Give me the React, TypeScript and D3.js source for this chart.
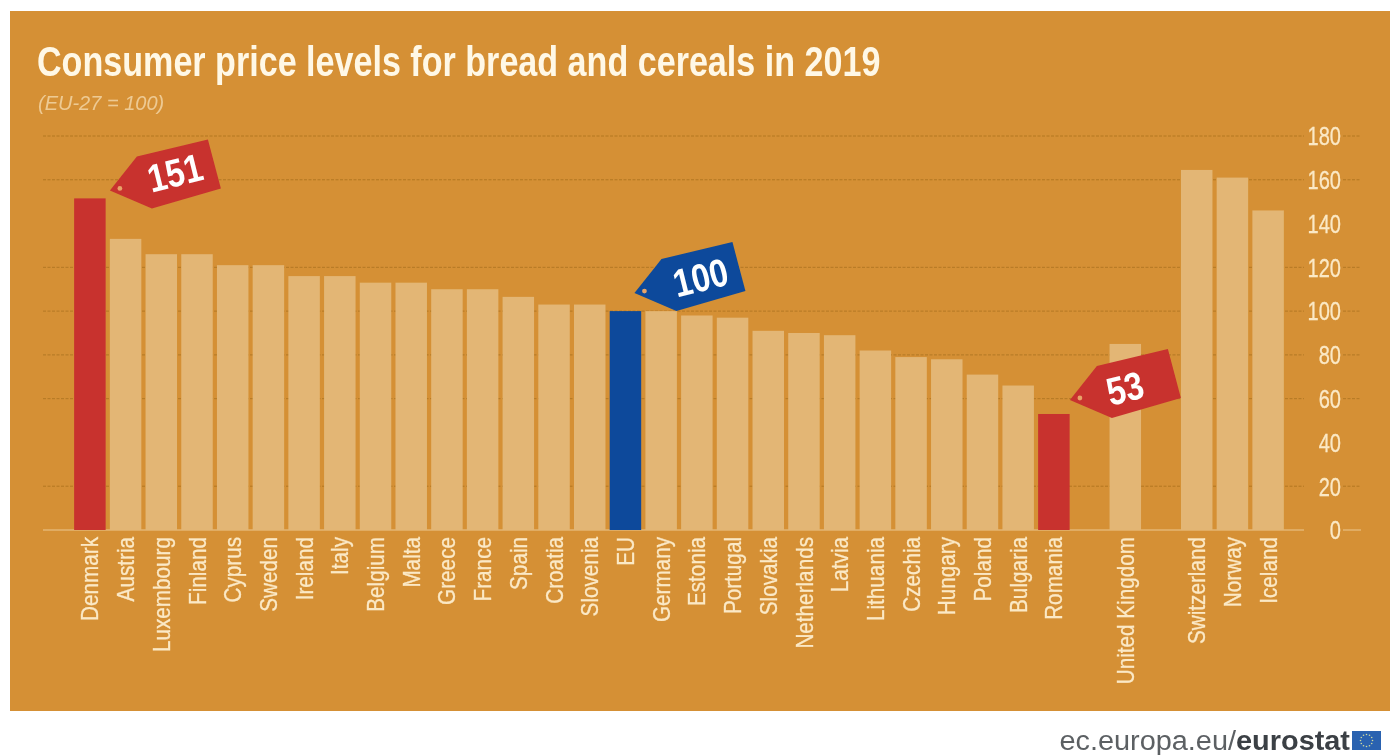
import React from "react";
import * as d3 from "d3";

const categories = ["Denmark","Austria","Luxembourg","Finland","Cyprus","Sweden","Ireland","Italy","Belgium","Malta","Greece","France","Spain","Croatia","Slovenia","EU","Germany","Estonia","Portugal","Slovakia","Netherlands","Latvia","Lithuania","Czechia","Hungary","Poland","Bulgaria","Romania","gap1","United Kingdom","gap2","Switzerland","Norway","Iceland"];
const values = [151.5,133,126,126,121,121,116,116,113,113,110,110,106.5,103,103,100,100,98,97,91,90,89,82,79,78,71,66,53,null,85,null,164.5,161,146];
const yTicks = [0,20,40,60,80,100,120,140,160,180];
const gridValues = [20,60,80,100,120,160,180];
const tagNames = ["Denmark","EU","Romania"];
const tagLabels = ["151","100","53"];

const tagLayout = [
  { dx: 20, dy: -8, tx: 65, ty: -18, fill: "#c8312f" },
  { dx: 9, dy: -18, tx: 66, ty: -16, fill: "#0c4a9b" },
  { dx: 16, dy: -14, tx: 55, ty: -12, fill: "#c8312f" },
];
const barColors: Record<string, string> = { Denmark: "#c8312f", Romania: "#c8312f", EU: "#0c4a9b" };

const W = 1390, H = 755;
const BG = "#d59035", BAR = "#e3b674", TEXT = "#fbe9c6", GRID = "#ad7320";
const SANS = "'Liberation Sans',sans-serif";

const x = d3.scaleBand<string>().domain(categories).range([72, 1286]).paddingInner(0.118).paddingOuter(0.06);
const y = d3.scaleLinear().domain([0, 180]).range([530, 136]);
const tagPath = d3.line()([[0,0],[27,-34],[98,-51],[111,-2],[42,18]]) + "Z";

export default function App() {
  return (
    <svg width={W} height={H} style={{ position: "absolute", left: 0, top: 0, background: "#fff" }}>
      <defs>
        <filter id="soft" x="-5%" y="-5%" width="110%" height="110%">
          <feGaussianBlur stdDeviation="0.5" />
        </filter>
      </defs>
      <g filter="url(#soft)">
        <rect x={10} y={11} width={1380} height={700} fill={BG} />
        <text transform="translate(37,75.5) scale(0.812,1)" fill="#fff8e6" fontFamily={SANS} fontWeight={700} fontSize={42}>
          Consumer price levels for bread and cereals in 2019
        </text>
        <text x={38} y={110} fill={TEXT} fontFamily={SANS} fontStyle="italic" fontSize={20} opacity={0.65}>
          (EU-27 = 100)
        </text>

        {gridValues.map((v) => (
          <g key={v} stroke={GRID} strokeOpacity={0.85} strokeWidth={1} strokeDasharray="3 1.5">
            <line x1={43} x2={1304} y1={y(v)} y2={y(v)} />
            <line x1={1343} x2={1361} y1={y(v)} y2={y(v)} />
          </g>
        ))}
        <line x1={43} x2={1304} y1={y(0)} y2={y(0)} stroke={BAR} strokeWidth={1.5} />
        <line x1={1343} x2={1361} y1={y(0)} y2={y(0)} stroke={BAR} strokeWidth={1.5} />

        {categories.map((c, i) => {
          const v = values[i];
          if (v == null) return null;
          return (
            <rect key={c} x={x(c)} width={x.bandwidth()} y={y(v)} height={y(0) - y(v)} fill={barColors[c] ?? BAR} />
          );
        })}

        {yTicks.map((t) => (
          <text key={t} transform={`translate(1341,${y(t)}) scale(0.77,1)`} dy="0.36em" textAnchor="end" fill={TEXT} stroke={TEXT} strokeWidth={0.3} fontFamily={SANS} fontSize={26}>
            {t}
          </text>
        ))}

        {categories.map((c) =>
          c.startsWith("gap") ? null : (
            <text
              key={c}
              transform={`translate(${x(c)! + x.bandwidth() / 2 + 0.5},537) rotate(-90) scale(0.9,1)`}
              dy="0.35em"
              textAnchor="end"
              fill={TEXT}
              stroke={TEXT}
              strokeWidth={0.3}
              fontFamily={SANS}
              fontSize={23}
            >
              {c}
            </text>
          )
        )}

        {tagNames.map((name, k) => {
          const i = categories.indexOf(name);
          const t = tagLayout[k];
          const tx = x(name)! + x.bandwidth() / 2 + t.dx;
          const ty = y(values[i]!) + t.dy;
          return (
            <g key={name} transform={`translate(${tx},${ty})`}>
              <path d={tagPath} fill={t.fill} />
              <circle cx={10} cy={-2} r={2.4} fill="#e8a468" />
              <text
                transform={`translate(${t.tx},${t.ty}) rotate(-14) scale(0.85,1)`}
                dy="0.36em"
                textAnchor="middle"
                fill="#fff"
                fontFamily={SANS}
                fontWeight={700}
                fontSize={39}
              >
                {tagLabels[k]}
              </text>
            </g>
          );
        })}

        <text transform="translate(1350,750) scale(1.07,1)" textAnchor="end" fontFamily={SANS} fontSize={27} fill="#5c6064">
          ec.europa.eu/<tspan fontWeight={700} fill="#3b3f44">eurostat</tspan>
        </text>
        <rect x={1352} y={731} width={29} height={19} fill="#2a62b0" />
        {d3.range(12).map((k) => (
          <circle
            key={k}
            cx={1366.5 + 6 * Math.cos((k * Math.PI) / 6)}
            cy={740.5 + 6 * Math.sin((k * Math.PI) / 6)}
            r={0.8}
            fill="#cfd9a0"
          />
        ))}
      </g>
    </svg>
  );
}
